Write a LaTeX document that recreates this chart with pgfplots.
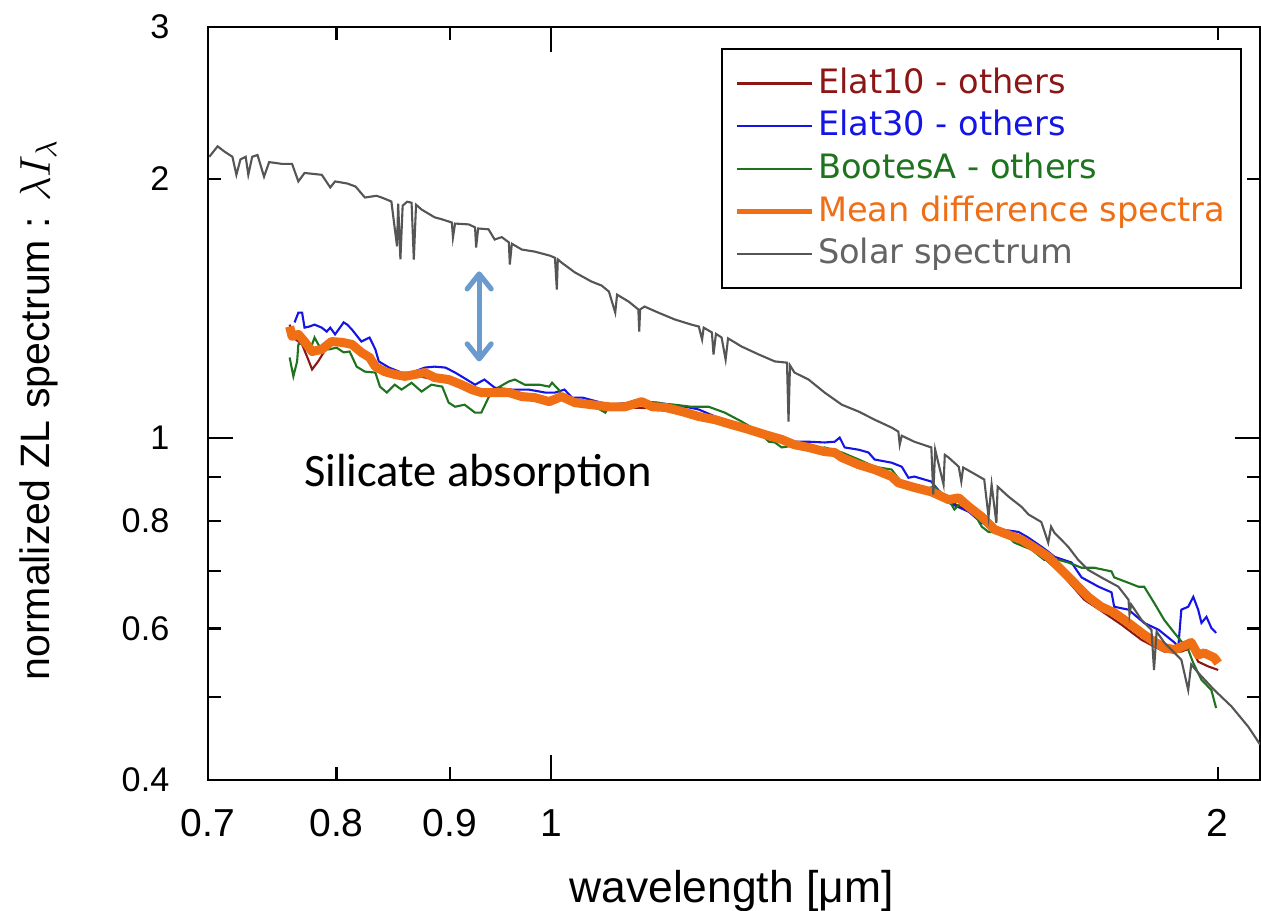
\documentclass[border=0pt]{standalone}
\usepackage{fontspec}
\setmainfont{Liberation Sans}
\newfontfamily\djv{DejaVu Sans}
\newfontfamily\carl{Carlito}
\usepackage{pgfplots}
\pgfplotsset{compat=1.18}
\usetikzlibrary{arrows.meta}
\definecolor{elatten}{RGB}{140,22,22}
\definecolor{elatthirty}{RGB}{20,20,230}
\definecolor{bootes}{RGB}{30,115,30}
\definecolor{meanc}{RGB}{240,110,20}
\definecolor{solarc}{RGB}{85,85,85}
\definecolor{solartext}{RGB}{100,100,100}
\definecolor{arrowc}{RGB}{106,154,206}
\begin{document}
\begin{tikzpicture}
\useasboundingbox (-69.33pt,-43.33pt) rectangle (351pt,260pt);
\begin{axis}[
 xmode=log, ymode=log,
 width=350.67pt, height=251pt, scale only axis,
 xmin=0.7, xmax=2.09, ymin=0.4, ymax=3,
 xminorticks=false, yminorticks=false,
 xtick={0.7,0.8,0.9,2}, xticklabels={0.7,0.8,0.9,2},
 extra x ticks={1}, extra x tick labels={1},
 ytick={0.4,0.5,0.6,0.7,0.8,0.9,2,3}, yticklabels={0.4,,0.6,,0.8,,2,3},
 extra y ticks={1}, extra y tick labels={1},
 extra tick style={major tick length=8.3pt},
 major tick length=4.3pt,
 tick style={black, line width=0.7pt},
 axis line style={line width=0.8pt},
 tick align=inside, tick pos=both,
 xticklabel style={font=\fontsize{13}{15}\selectfont, anchor=base, inner sep=0pt, yshift=-18.7pt},
 yticklabel style={font=\fontsize{11.4}{13}\selectfont, anchor=east, inner sep=0pt, xshift=-12.7pt},
 xlabel={wavelength [μm]},
 ylabel={normalized ZL spectrum : $\lambda I_\lambda$},
 xlabel style={at={(axis description cs:0.4976,-0.1621)}, anchor=base, font=\fontsize{14.8}{17}\selectfont},
 ylabel style={at={(axis description cs:-0.1503,0.4914)}, anchor=base, font=\fontsize{13.7}{16}\selectfont},
 legend style={at={(0.983,0.972)}, anchor=north east, draw=black, line width=0.7pt,
   font=\djv\fontsize{11.2}{13}\selectfont, inner xsep=4.1pt, inner ysep=4.5pt, row sep=0.3pt,
   nodes={inner sep=1.2pt, text height=9pt, text depth=2.5pt}},
 legend cell align=left,
 legend image code/.code={\draw[#1] (0pt,0pt) -- (25pt,0pt);},
]
% Elat10 - others
\addplot[color=elatten, line width=0.7pt] coordinates {
(0.762,1.353)(0.765,1.307)(0.772,1.283)(0.777,1.232)(0.780,1.200)(0.785,1.226)(0.790,1.259)(0.796,1.283)(0.805,1.283)(0.813,1.279)(0.821,1.252)(0.830,1.226)(0.841,1.190)(0.850,1.178)(0.868,1.181)(0.886,1.168)(0.911,1.149)(0.930,1.125)(0.957,1.125)(0.983,1.110)(1.011,1.113)(1.043,1.089)(1.080,1.084)(1.118,1.081)(1.166,1.055)(1.207,1.033)(1.249,1.005)(1.288,0.979)(1.329,0.961)(1.377,0.928)(1.425,0.898)(1.459,0.873)(1.512,0.845)(1.565,0.805)(1.609,0.767)(1.653,0.741)(1.700,0.695)(1.741,0.648)(1.772,0.629)(1.810,0.606)(1.848,0.582)(1.892,0.564)(1.926,0.564)(1.946,0.570)(1.960,0.549)(1.981,0.542)(2.001,0.537)
};
\addlegendentry{\textcolor{elatten}{Elat10 - others}}
% Elat30 - others
\addplot[color=elatthirty, line width=0.7pt] coordinates {
(0.766,1.361)(0.769,1.397)(0.772,1.397)(0.774,1.342)(0.778,1.346)(0.782,1.353)(0.788,1.342)(0.792,1.328)(0.795,1.342)(0.799,1.318)(0.806,1.361)(0.809,1.353)(0.813,1.335)(0.821,1.293)(0.828,1.307)(0.833,1.266)(0.836,1.226)(0.845,1.206)(0.856,1.190)(0.865,1.190)(0.877,1.206)(0.886,1.209)(0.896,1.206)(0.905,1.190)(0.911,1.178)(0.924,1.152)(0.933,1.168)(0.943,1.143)(0.960,1.137)(0.977,1.137)(0.994,1.128)(1.004,1.128)(1.014,1.137)(1.022,1.113)(1.033,1.113)(1.062,1.092)(1.099,1.101)(1.118,1.098)(1.130,1.092)(1.154,1.084)(1.166,1.078)(1.186,1.058)(1.210,1.041)(1.228,1.022)(1.254,1.003)(1.271,0.995)(1.288,0.989)(1.307,0.989)(1.329,0.987)(1.343,0.989)(1.350,1.000)(1.357,0.974)(1.377,0.968)(1.391,0.961)(1.400,0.943)(1.425,0.935)(1.440,0.925)(1.450,0.898)(1.459,0.901)(1.485,0.889)(1.512,0.840)(1.544,0.820)(1.565,0.796)(1.597,0.782)(1.626,0.777)(1.643,0.765)(1.665,0.747)(1.677,0.737)(1.688,0.727)(1.718,0.716)(1.736,0.688)(1.767,0.671)(1.791,0.661)(1.796,0.636)(1.823,0.631)(1.853,0.609)(1.881,0.598)(1.912,0.578)(1.920,0.571)(1.926,0.631)(1.940,0.636)(1.950,0.653)(1.960,0.631)(1.967,0.609)(1.977,0.619)(1.987,0.601)(1.997,0.593)
};
\addlegendentry{\textcolor{elatthirty}{Elat30 - others}}
% BootesA - others
\addplot[color=bootes, line width=0.7pt] coordinates {
(0.762,1.239)(0.765,1.178)(0.768,1.226)(0.769,1.283)(0.773,1.293)(0.780,1.283)(0.782,1.307)(0.786,1.276)(0.794,1.266)(0.800,1.272)(0.806,1.256)(0.811,1.259)(0.817,1.209)(0.824,1.193)(0.833,1.190)(0.837,1.146)(0.843,1.128)(0.850,1.152)(0.856,1.137)(0.865,1.158)(0.874,1.131)(0.883,1.152)(0.893,1.146)(0.899,1.098)(0.905,1.086)(0.914,1.092)(0.924,1.069)(0.930,1.069)(0.937,1.113)(0.943,1.137)(0.957,1.162)(0.963,1.168)(0.973,1.152)(0.988,1.152)(0.998,1.146)(1.001,1.158)(1.008,1.137)(1.011,1.116)(1.025,1.107)(1.043,1.092)(1.058,1.069)(1.062,1.086)(1.099,1.101)(1.137,1.092)(1.157,1.086)(1.178,1.086)(1.198,1.069)(1.219,1.044)(1.241,1.016)(1.254,0.989)(1.262,0.987)(1.271,0.974)(1.294,0.981)(1.316,0.968)(1.329,0.974)(1.353,0.961)(1.377,0.943)(1.400,0.925)(1.425,0.918)(1.440,0.886)(1.470,0.870)(1.490,0.877)(1.512,0.847)(1.521,0.825)(1.532,0.840)(1.549,0.825)(1.565,0.788)(1.576,0.777)(1.602,0.775)(1.619,0.755)(1.648,0.741)(1.670,0.721)(1.695,0.721)(1.712,0.716)(1.736,0.706)(1.759,0.706)(1.791,0.699)(1.796,0.688)(1.823,0.678)(1.842,0.671)(1.853,0.671)(1.872,0.643)(1.892,0.614)(1.912,0.593)(1.940,0.567)(1.950,0.547)(1.967,0.523)(1.987,0.509)(1.997,0.485)
};
\addlegendentry{\textcolor{bootes}{BootesA - others}}
% Mean difference spectra
\addplot[color=meanc, line width=3pt, line join=round, legend image post style={line width=1.6pt}] coordinates {
(0.762,1.346)(0.764,1.311)(0.769,1.318)(0.774,1.293)(0.780,1.259)(0.788,1.266)(0.796,1.293)(0.805,1.290)(0.813,1.283)(0.821,1.256)(0.828,1.239)(0.833,1.209)(0.841,1.193)(0.850,1.184)(0.859,1.178)(0.868,1.184)(0.877,1.190)(0.886,1.174)(0.899,1.168)(0.911,1.152)(0.921,1.137)(0.930,1.128)(0.943,1.128)(0.957,1.128)(0.970,1.116)(0.983,1.113)(0.998,1.101)(1.011,1.116)(1.025,1.098)(1.043,1.092)(1.062,1.086)(1.080,1.086)(1.099,1.101)(1.111,1.086)(1.126,1.084)(1.146,1.072)(1.166,1.058)(1.186,1.049)(1.207,1.035)(1.228,1.022)(1.249,1.008)(1.271,0.995)(1.288,0.981)(1.307,0.974)(1.329,0.963)(1.343,0.961)(1.353,0.948)(1.377,0.930)(1.400,0.918)(1.425,0.901)(1.435,0.886)(1.459,0.875)(1.485,0.865)(1.512,0.847)(1.528,0.851)(1.544,0.831)(1.565,0.809)(1.586,0.782)(1.609,0.771)(1.631,0.761)(1.653,0.745)(1.677,0.727)(1.700,0.702)(1.723,0.678)(1.748,0.653)(1.772,0.636)(1.796,0.626)(1.823,0.609)(1.848,0.593)(1.867,0.582)(1.892,0.570)(1.912,0.567)(1.926,0.571)(1.946,0.578)(1.960,0.559)(1.972,0.562)(1.993,0.555)(2.001,0.547)
};
\addlegendentry{\textcolor{meanc}{Mean difference spectra}}
% Solar spectrum
\addplot[color=solarc, line width=0.7pt] coordinates {
(0.701,2.12)(0.707,2.18)(0.712,2.15)(0.718,2.12)(0.721,2.02)(0.724,2.105)(0.728,2.12)(0.730,2.02)(0.733,2.12)(0.737,2.13)(0.742,2.01)(0.746,2.09)(0.756,2.08)(0.764,2.08)(0.769,1.985)(0.774,2.03)(0.788,2.02)(0.795,1.953)(0.799,1.985)(0.809,1.974)(0.816,1.958)(0.824,1.901)(0.834,1.91)(0.839,1.90)(0.847,1.881)(0.852,1.668)(0.853,1.87)(0.855,1.611)(0.857,1.86)(0.861,1.88)(0.865,1.875)(0.867,1.61)(0.869,1.865)(0.874,1.841)(0.886,1.803)(0.893,1.793)(0.902,1.778)(0.903,1.708)(0.905,1.773)(0.918,1.769)(0.924,1.755)(0.925,1.663)(0.927,1.75)(0.937,1.746)(0.943,1.699)(0.950,1.71)(0.957,1.686)(0.958,1.589)(0.960,1.68)(0.970,1.654)(0.983,1.645)(0.999,1.627)(1.004,1.618)(1.006,1.486)(1.007,1.611)(1.011,1.597)(1.025,1.556)(1.043,1.518)(1.054,1.502)(1.062,1.478)(1.069,1.397)(1.071,1.466)(1.084,1.439)(1.095,1.409)(1.096,1.328)(1.097,1.409)(1.102,1.42)(1.118,1.397)(1.137,1.372)(1.157,1.353)(1.166,1.346)(1.170,1.30)(1.172,1.342)(1.182,1.325)(1.184,1.249)(1.187,1.32)(1.194,1.307)(1.199,1.232)(1.202,1.304)(1.219,1.276)(1.241,1.249)(1.262,1.226)(1.278,1.222)(1.280,1.044)(1.282,1.213)(1.288,1.190)(1.307,1.168)(1.329,1.128)(1.353,1.092)(1.377,1.072)(1.400,1.049)(1.425,1.027)(1.435,1.016)(1.437,0.981)(1.440,1.005)(1.459,0.989)(1.485,0.974)(1.488,0.859)(1.491,0.968)(1.504,0.882)(1.506,0.955)(1.512,0.948)(1.528,0.925)(1.532,0.889)(1.535,0.923)(1.549,0.911)(1.569,0.894)(1.576,0.809)(1.581,0.882)(1.589,0.796)(1.591,0.877)(1.609,0.854)(1.631,0.831)(1.643,0.814)(1.665,0.798)(1.677,0.755)(1.682,0.788)(1.688,0.775)(1.712,0.747)(1.730,0.721)(1.748,0.702)(1.772,0.688)(1.804,0.671)(1.823,0.648)(1.825,0.623)(1.828,0.640)(1.848,0.614)(1.867,0.598)(1.872,0.537)(1.877,0.595)(1.892,0.578)(1.926,0.552)(1.940,0.509)(1.946,0.545)(1.960,0.533)(1.993,0.509)(2.029,0.487)(2.065,0.461)(2.090,0.440)
};
\addlegendentry{\textcolor{solartext}{Solar spectrum}}
\node[font=\carl\fontsize{15.5}{18}\selectfont, anchor=base, inner sep=0pt] at (axis cs:0.927,0.877) {Silicate absorption};
\draw[arrowc, line width=1.7pt, line cap=round, {Straight Barb[length=5pt,width=8pt,round]}-{Straight Barb[length=5pt,width=8pt,round]}] (axis cs:0.928,1.226) -- (axis cs:0.928,1.560);
\end{axis}
\end{tikzpicture}
\end{document}
